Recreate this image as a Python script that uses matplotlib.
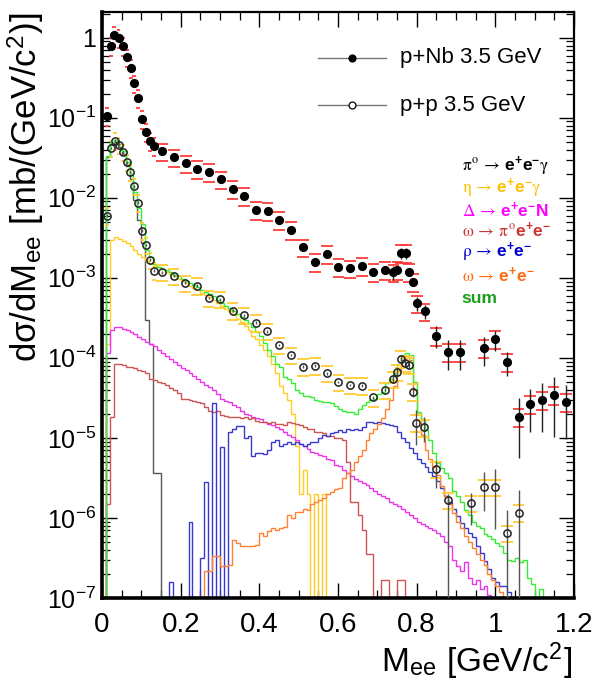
import numpy as np
import matplotlib
matplotlib.use("Agg")
import matplotlib.pyplot as plt
from matplotlib.ticker import FixedLocator, NullFormatter

plt.rcParams.update({
    "font.family": ["Liberation Sans", "DejaVu Sans"],
    "mathtext.fontset": "custom",
    "mathtext.rm": "STIXGeneral",
    "mathtext.it": "STIXGeneral",
    "mathtext.bf": "Liberation Sans:bold",
    "mathtext.sf": "Liberation Sans",
})

# --- p+Nb 3.5 GeV (filled) ---
nb_x = [0.012, 0.022, 0.031, 0.042, 0.053, 0.063, 0.073, 0.082, 0.092, 0.102,
        0.113, 0.123, 0.132, 0.152, 0.183, 0.213, 0.242, 0.272, 0.302, 0.332,
        0.361, 0.392, 0.421, 0.451, 0.481, 0.510, 0.541, 0.571, 0.601, 0.631,
        0.660, 0.690, 0.720, 0.741, 0.751, 0.760, 0.773, 0.781, 0.790, 0.800,
        0.820, 0.849, 0.880, 0.910, 0.970, 1.000, 1.030, 1.059, 1.088, 1.119,
        1.148, 1.179]
nb_y = [0.106, 0.79, 1.09, 1.0, 0.79, 0.57, 0.42, 0.27, 0.176, 0.097,
        0.067, 0.052, 0.045, 0.038, 0.032, 0.027, 0.023, 0.021, 0.017, 0.013,
        0.0106, 0.0070, 0.0069, 0.0053, 0.0040, 0.0024, 0.0016, 0.0020, 0.00138, 0.00131,
        0.00140, 0.00118, 0.00126, 0.00117, 0.00126, 0.00204, 0.00204, 0.0012, 0.00089, 0.00048,
        0.00038, 0.00019, 0.000119, 0.000119, 0.000132, 0.000171, 8.86e-5, 1.85e-5, 2.65e-5, 3.0e-5,
        3.44e-5, 2.8e-5]
nb_stat = [0.03] * 25 + [0.08] * 8 + [0.2, 0.1, 0.15, 0.15, 0.12, 0.12, 0.2,
           0.2, 0.3, 0.4, 0.4, 0.4, 0.28, 0.33, 0.7, 0.55, 0.6, 0.7, 0.65]
nb_sys = 0.25

# --- p+p 3.5 GeV (open) ---
pp_x = [0.012, 0.022, 0.032, 0.042, 0.053, 0.063, 0.072, 0.082, 0.092, 0.102,
        0.112, 0.122, 0.132, 0.153, 0.182, 0.212, 0.242, 0.271, 0.301, 0.332,
        0.362, 0.392, 0.420, 0.451, 0.481, 0.511, 0.541, 0.571, 0.601, 0.631,
        0.660, 0.690, 0.720, 0.739, 0.749, 0.759, 0.770, 0.780, 0.790, 0.798,
        0.819, 0.849, 0.879, 0.939, 0.970, 1.000, 1.029, 1.059]
pp_y = [0.006, 0.042, 0.052, 0.046, 0.037, 0.0277, 0.021, 0.0139, 0.0087, 0.0039,
        0.00258, 0.00168, 0.00123, 0.00118, 0.00106, 0.00087, 0.00080, 0.00056, 0.00054, 0.00039,
        0.00034, 0.000276, 0.000215, 0.000145, 0.000109, 7.8e-5, 8.0e-5, 6.4e-5, 5.0e-5, 4.6e-5,
        4.5e-5, 3.2e-5, 4.0e-5, 5.4e-5, 6.6e-5, 9.8e-5, 8.7e-5, 8.1e-5, 3.8e-5, 1.55e-5,
        1.35e-5, 4.1e-6, 1.66e-6, 1.55e-6, 2.45e-6, 2.45e-6, 6.5e-7, 1.17e-6]
pp_stat_lo = [0.04] * 33 + [0.1, 0.1, 0.08, 0.08, 0.1, 0.15, 0.48,
              0.35, 0.42, 1.0, 0.47, 0.5, 0.7, 1.0, 1.0]
pp_stat_hi = [0.04] * 33 + [0.1, 0.1, 0.08, 0.08, 0.1, 0.15, 0.44,
              0.35, 0.25, 0.2, 0.32, 0.55, 0.66, 0.95, 0.9]
pp_sys = 0.23

# --- simulated cocktail, 10 MeV bins from 0 ---
bin_w = 0.01
pi0_dalitz = [0, 0.0327, 0.0467, 0.0495, 0.0436, 0.0348, 0.025, 0.0172, 0.0093, 0.0053,
              0.0027, 3e-4, 1.5e-4, 3.6e-6, 3.6e-6]
eta_dalitz = [0, 1.5e-4, 3.0e-3, 3.2e-3, 3.1e-3, 2.9e-3, 2.7e-3, 2.5e-3, 2.2e-3, 2.0e-3,
              1.8e-3, 1.65e-3, 1.5e-3, 1.42e-3, 1.35e-3, 1.28e-3, 1.2e-3, 1.12e-3, 1.05e-3, 9.8e-4,
              9.2e-4, 8.6e-4, 8.0e-4, 7.5e-4, 7.0e-4, 6.5e-4, 6.1e-4, 5.7e-4, 5.3e-4, 4.9e-4,
              4.5e-4, 4.1e-4, 3.8e-4, 3.4e-4, 3.1e-4, 2.8e-4, 2.5e-4, 2.2e-4, 1.9e-4, 1.7e-4,
              1.45e-4, 1.25e-4, 1.05e-4, 8.5e-5, 6.5e-5, 4.5e-5, 3.6e-5, 3.0e-5, 2.0e-5, 8e-6,
              2e-6, 4e-6, 2e-6, 0, 2e-6, 0, 2e-6]
delta_dalitz = [0, 1.15e-4, 2.2e-4, 2.4e-4, 2.4e-4, 2.3e-4, 2.2e-4, 2.1e-4, 2.0e-4, 1.85e-4,
                1.7e-4, 1.6e-4, 1.5e-4, 1.4e-4, 1.25e-4, 1.15e-4, 1.05e-4, 9.6e-5, 9.0e-5, 8.2e-5,
                7.5e-5, 7.0e-5, 6.4e-5, 6.0e-5, 5.5e-5, 5.0e-5, 4.6e-5, 4.3e-5, 4.0e-5, 3.5e-5,
                3.1e-5, 2.9e-5, 2.8e-5, 2.6e-5, 2.4e-5, 2.2e-5, 2.0e-5, 1.95e-5, 1.85e-5, 1.75e-5,
                1.7e-5, 1.6e-5, 1.5e-5, 1.45e-5, 1.35e-5, 1.3e-5, 1.2e-5, 1.1e-5, 1.04e-5, 9.5e-6,
                8.5e-6, 8.0e-6, 7.2e-6, 6.7e-6, 6.4e-6, 6.1e-6, 5.9e-6, 5.5e-6, 5.3e-6, 4.6e-6,
                4.4e-6, 4.0e-6, 3.6e-6, 3.3e-6, 3.1e-6, 2.9e-6, 2.7e-6, 2.6e-6, 2.4e-6, 2.2e-6,
                2.0e-6, 1.9e-6, 1.8e-6, 1.6e-6, 1.5e-6, 1.4e-6, 1.3e-6, 1.2e-6, 1.1e-6, 1.0e-6,
                9e-7, 8.5e-7, 8e-7, 7.5e-7, 7e-7, 6.5e-7, 6e-7, 5e-7, 4.5e-7, 3e-7,
                2.5e-7, 2.2e-7, 2.8e-7, 1.8e-7, 1.5e-7, 1.7e-7, 1.3e-7, 1.4e-7, 1.1e-7, 0]
omega_dalitz = [0, 1.5e-6, 1.85e-5, 8.5e-5, 8.5e-5, 8.1e-5, 7.8e-5, 7.6e-5, 7.4e-5, 7.1e-5,
                6.8e-5, 6.4e-5, 5.5e-5, 5.3e-5, 5.0e-5, 4.8e-5, 4.6e-5, 4.2e-5, 4.0e-5, 3.6e-5,
                3.1e-5, 3.1e-5, 3.0e-5, 2.9e-5, 2.8e-5, 2.7e-5, 2.4e-5, 2.2e-5, 2.1e-5, 2.2e-5,
                1.94e-5, 1.9e-5, 1.85e-5, 1.85e-5, 1.8e-5, 1.76e-5, 1.8e-5, 1.7e-5, 1.75e-5, 1.65e-5,
                1.6e-5, 1.6e-5, 1.55e-5, 1.6e-5, 1.5e-5, 1.5e-5, 1.45e-5, 1.6e-5, 1.55e-5, 1.5e-5,
                1.45e-5, 1.35e-5, 1.3e-5, 1.3e-5, 1.2e-5, 1.2e-5, 1.15e-5, 1.05e-5, 1.05e-5, 1.0e-5,
                1.0e-5, 9.5e-6, 5e-6, 1.6e-6, 1.6e-6, 1.1e-6, 7e-7, 3.5e-7, 3.5e-7, 0,
                0, 1.7e-7, 1.7e-7, 0, 0, 1.7e-7, 1.7e-7, 0]
rho_ee = [0] * 17 + [1.6e-7, 0, 0, 0, 0, 9e-7, 0, 0, 3.2e-7, 2.8e-6, 0, 2.7e-5, 0,
          7.8e-6, 0, 1.2e-5, 1.3e-5, 1.4e-5, 1.4e-5, 1.0e-5, 1.05e-5, 6e-6, 6.5e-6,
          6.5e-6, 6.3e-6, 7e-6, 9e-6, 9.5e-6, 8e-6, 8.5e-6, 9e-6, 8.5e-6, 9e-6,
          8.5e-6, 8e-6, 8.5e-6, 9e-6, 9e-6, 1.0e-5, 1.1e-5, 1.05e-5, 1.15e-5, 1.2e-5,
          1.25e-5, 1.2e-5, 1.3e-5, 1.25e-5, 1.3e-5, 1.25e-5, 1.35e-5, 1.6e-5, 1.6e-5, 1.55e-5,
          1.6e-5, 1.55e-5, 1.5e-5, 1.45e-5, 1.4e-5, 1.2e-5, 1.0e-5, 9e-6, 7.5e-6, 6.5e-6,
          5.5e-6, 4.8e-6, 4.3e-6, 3.8e-6, 3.3e-6, 2.9e-6, 2.4e-6, 1.9e-6, 1.6e-6, 1.3e-6,
          1.05e-6, 8.7e-7, 7.5e-7, 6.5e-7, 5.7e-7, 4.4e-7, 3.6e-7, 2.9e-7, 2.3e-7, 1.8e-7,
          1.6e-7, 1.4e-7, 1.4e-7, 1.2e-7, 0]
omega_ee = [0] * 26 + [2.2e-7, 2.2e-7, 3.3e-7, 3.3e-7, 2.5e-7, 2.5e-7, 2.6e-7, 5.3e-7, 4.8e-7, 4.5e-7,
            4.5e-7, 4.4e-7, 4.5e-7, 4.6e-7, 6.5e-7, 6.0e-7, 6.8e-7, 7.5e-7, 7.0e-7, 7.5e-7,
            7.8e-7, 1.1e-6, 1.0e-6, 1.2e-6, 1.2e-6, 1.3e-6, 1.25e-6, 1.5e-6, 1.6e-6, 1.7e-6,
            1.8e-6, 2.0e-6, 2.1e-6, 2.3e-6, 2.4e-6, 3.2e-6, 3.6e-6, 4.0e-6, 5.0e-6, 6.0e-6,
            7.0e-6, 9.5e-6, 1.15e-5, 1.3e-5, 1.5e-5, 1.75e-5, 2.3e-5, 3.0e-5, 4.5e-5, 7.0e-5,
            1.0e-4, 1.05e-4, 9.5e-5, 4.0e-5, 2.0e-5, 1.1e-5, 7e-6, 5.5e-6, 4.3e-6, 3.4e-6,
            2.5e-6, 1.9e-6, 1.5e-6, 1.15e-6, 9e-7, 7.5e-7, 6e-7, 5e-7, 4.2e-7, 3.5e-7,
            3e-7, 2.6e-7, 2.0e-7, 1.7e-7, 1.4e-7, 1.2e-7, 0]
cocktail_sum = [0, 0.033, 0.05, 0.053, 0.047, 0.038, 0.028, 0.020, 0.0117, 0.0075,
                0.0047, 0.0022, 0.0018, 0.0015, 0.00138, 0.0013, 0.00125, 0.00118, 0.0011, 0.00104,
                0.00098, 0.00092, 0.00087, 0.00082, 0.00076, 0.00071, 0.00066, 0.00063, 0.0006, 0.00053,
                0.00049, 0.00045, 0.00042, 0.00038, 0.00035, 0.00032, 0.0003, 0.00027, 0.00024, 0.00021,
                0.00019, 0.000155, 0.000125, 0.000105, 8.5e-5, 7.8e-5, 5.8e-5, 5.5e-5, 4.8e-5, 4.0e-5,
                3.6e-5, 3.3e-5, 3.3e-5, 3.2e-5, 3.0e-5, 2.9e-5, 2.8e-5, 2.8e-5, 2.7e-5, 2.5e-5,
                2.3e-5, 2.2e-5, 2.1e-5, 2.1e-5, 2.0e-5, 2.3e-5, 2.6e-5, 2.8e-5, 3.0e-5, 3.1e-5,
                3.5e-5, 3.8e-5, 4.8e-5, 5.5e-5, 6.5e-5, 8.5e-5, 1.1e-4, 1.15e-4, 1.1e-4, 5.0e-5,
                2.1e-5, 1.7e-5, 1.25e-5, 9.5e-6, 6.5e-6, 4.8e-6, 4.2e-6, 3.6e-6, 3.2e-6, 2.2e-6,
                1.9e-6, 1.6e-6, 1.25e-6, 1.1e-6, 9e-7, 8e-7, 7.5e-7, 6.3e-7, 6.0e-7, 5.5e-7,
                4.9e-7, 4.5e-7, 3.6e-7, 3.0e-7, 2.9e-7, 3.2e-7, 2.8e-7, 3.0e-7, 1.8e-7, 1.5e-7,
                1.0e-7, 1.3e-7, 0]

ARROW = r"\,\rightarrow\,"
components = [
    (pi0_dalitz, "#555555", r"$\pi^{o}" + ARROW + r"\mathbf{e^{+}e^{-}}\gamma$", "black"),
    (eta_dalitz, "#ffcc22", r"$\eta" + ARROW + r"\mathbf{e^{+}e^{-}}\gamma$", "#ffc000"),
    (delta_dalitz, "#ee33ee", r"$\Delta" + ARROW + r"\mathbf{e^{+}e^{-}N}$", "#ff00ff"),
    (omega_dalitz, "#cc5555", r"$\omega" + ARROW + r"\pi^{o}\mathbf{e^{+}e^{-}}$", "#cc3333"),
    (rho_ee, "#3939cc", r"$\rho" + ARROW + r"\mathbf{e^{+}e^{-}}$", "#0000cc"),
    (omega_ee, "#ff8033", r"$\omega" + ARROW + r"\mathbf{e^{+}e^{-}}$", "#ff6a10"),
    (cocktail_sum, "#33ee33", "sum", "#1a9e1a"),
]

FLOOR = 1e-12


def main():
    fig = plt.figure(figsize=(5.93, 6.80), dpi=100)
    ax = fig.add_axes([0.172, 0.1206, 0.796, 0.8618])

    # --- cocktail histograms ---
    for vals, col, _, _ in components:
        v = np.array(vals, dtype=float)
        v = np.where(v > 0, v, FLOOR)
        edges = np.arange(len(v) + 1) * bin_w
        ax.stairs(v, edges, baseline=FLOOR, color=col, lw=1.0, zorder=2)

    # --- p+p data ---
    px, py = np.array(pp_x), np.array(pp_y)
    w = np.where(px < 0.145, 0.005, 0.015)
    ax.hlines(py * (1 + pp_sys), px - w, px + w, color="#ffcc33", lw=1.3, zorder=3)
    ax.hlines(py * (1 - pp_sys), px - w, px + w, color="#ffcc33", lw=1.3, zorder=3)
    lo = np.clip(py * (1 - np.array(pp_stat_lo)), FLOOR, None)
    ax.vlines(px, lo, py * (1 + np.array(pp_stat_hi)), color="#555555", lw=1.0, zorder=4)
    ax.plot(px, py, "o", ms=5.2, mfc="none", mec="#222222", mew=1.1, zorder=5)

    # --- p+Nb data ---
    nx, ny = np.array(nb_x), np.array(nb_y)
    w = np.where(nx < 0.145, 0.005, 0.015)
    ax.hlines(ny * (1 + nb_sys), nx - w, nx + w, color="#ff3b3b", lw=1.3, zorder=3)
    ax.hlines(ny * (1 - nb_sys), nx - w, nx + w, color="#ff3b3b", lw=1.3, zorder=3)
    st = np.array(nb_stat)
    ax.vlines(nx, np.clip(ny * (1 - st), FLOOR, None), ny * (1 + st),
              color="#222222", lw=1.0, zorder=4)
    ax.plot(nx, ny, "o", ms=5.6, color="black", zorder=6)

    # --- axes ---
    ax.set_yscale("log")
    ax.set_xlim(0, 1.2)
    ax.set_ylim(1e-7, 2.1)
    ax.xaxis.set_major_locator(FixedLocator([0, 0.2, 0.4, 0.6, 0.8, 1.0, 1.2]))
    ax.set_xticklabels(["0", "0.2", "0.4", "0.6", "0.8", "1", "1.2"])
    ax.xaxis.set_minor_locator(FixedLocator(np.arange(0, 1.2001, 0.05)))
    decades = [10.0 ** k for k in range(-7, 1)]
    ax.yaxis.set_major_locator(FixedLocator(decades))
    ax.set_yticklabels([r"10$^{\mathsf{-%d}}$" % k for k in range(7, 0, -1)] + ["1"])
    minors = [m * 10.0 ** k for k in range(-7, 1) for m in range(2, 10)]
    ax.yaxis.set_minor_locator(FixedLocator(minors))
    ax.yaxis.set_minor_formatter(NullFormatter())
    ax.tick_params(which="both", direction="in", top=True, right=True)
    ax.tick_params(which="major", length=11, width=1.0)
    ax.tick_params(which="minor", length=5.5, width=0.9)
    ax.tick_params(axis="x", which="major", labelsize=20, pad=10)
    ax.tick_params(axis="y", which="major", labelsize=18, pad=4)
    for side in ("left", "bottom"):
        ax.spines[side].set_linewidth(2.6)
    for side in ("top", "right"):
        ax.spines[side].set_linewidth(1.6)

    ax.set_ylabel("dσ/dM$_{\\mathsf{ee}}$ [mb/(GeV/c$^{\\mathsf{2}}$)]",
                  fontsize=25, loc="top")
    ax.yaxis.set_label_coords(-0.118, 1.0)
    ax.set_xlabel("M$_{\\mathsf{ee}}$ [GeV/c$^{\\mathsf{2}}$]", fontsize=24, loc="right")
    ax.xaxis.set_label_coords(0.996, -0.072)

    # --- data legend ---
    for yy, filled, lab in ((0.9215, True, "p+Nb 3.5 GeV"), (0.841, False, "p+p 3.5 GeV")):
        ax.plot([0.4576, 0.6017], [yy, yy], transform=ax.transAxes, color="#777777", lw=1.0)
        ax.plot([0.53], [yy], "o", transform=ax.transAxes, ms=5,
                mfc="black" if filled else "white", mec="black", mew=0.9)
        ax.text(0.631, yy, lab, transform=ax.transAxes, fontsize=16, va="center")

    # --- cocktail legend ---
    ys = [0.736, 0.699, 0.662, 0.627, 0.589, 0.551, 0.511]
    for (vals, col, lab, tcol), yy in zip(components, ys):
        kw = {"fontweight": "bold"} if lab == "sum" else {}
        ax.text(0.762, yy, lab, transform=ax.transAxes, fontsize=12.5,
                color=tcol, va="center", **kw)

    fig.savefig("out.png", dpi=100)


if __name__ == "__main__":
    main()
